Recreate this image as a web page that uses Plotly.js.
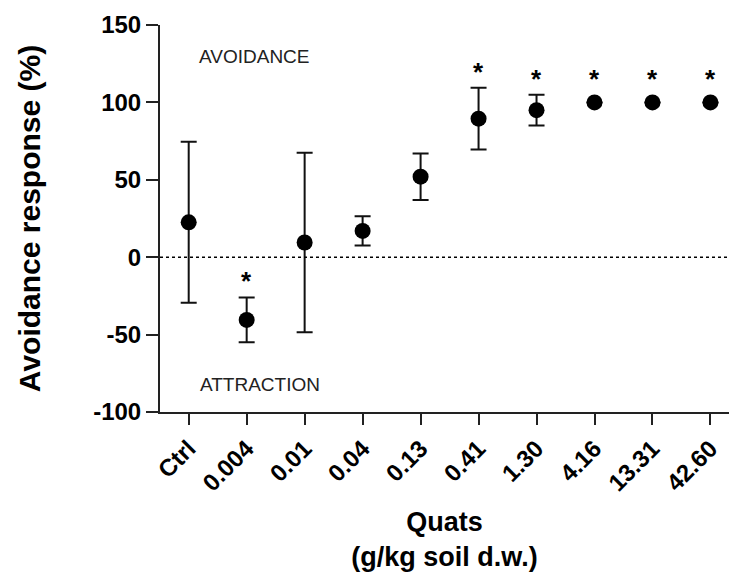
<!DOCTYPE html>
<html>
<head>
<meta charset="utf-8">
<script src="https://cdn.plot.ly/plotly-3.0.1.min.js"></script>
<style>html,body{margin:0;padding:0;background:#fff;}</style>
</head>
<body>
<div id="chart" style="width:729px;height:576px;"></div>
<script>
// Data
const categories = ["Ctrl", "0.004", "0.01", "0.04", "0.13", "0.41", "1.30", "4.16", "13.31", "42.60"];
const meanResponse = [22.5, -40.5, 9.5, 17, 52, 89.5, 95, 100, 100, 100];
const errorSize = [52, 14.5, 58, 9.5, 15, 20, 10, 0, 0, 0];
const significant = [false, true, false, false, false, true, true, true, true, true];
const yTicks = [-100, -50, 0, 50, 100, 150];

const FONT = "Liberation Sans, Arial, sans-serif";

const trace = {
  type: "scatter",
  mode: "markers",
  x: categories,
  y: meanResponse,
  marker: {color: "#000", size: 16, symbol: "circle"},
  error_y: {type: "data", array: errorSize, visible: true, color: "#111", thickness: 2, width: 8},
  hoverinfo: "x+y"
};

const annotations = [];
categories.forEach((c, i) => {
  if (!significant[i]) return;
  const top = meanResponse[i] + errorSize[i];
  annotations.push({
    x: i, y: top, xref: "x", yref: "y",
    text: "*", showarrow: false,
    font: {family: FONT, size: 26, color: "#000", weight: "bold"},
    yanchor: "bottom",
    yshift: errorSize[i] > 0 ? -1 : 6
  });
});
annotations.push({
  x: 0.065, y: 129.5, xref: "paper", yref: "y", xanchor: "left", yanchor: "middle",
  text: "AVOIDANCE", showarrow: false,
  font: {family: FONT, size: 19, color: "#222"}
});
annotations.push({
  x: 0.067, y: -82, xref: "paper", yref: "y", xanchor: "left", yanchor: "middle",
  text: "ATTRACTION", showarrow: false,
  font: {family: FONT, size: 19, color: "#222"}
});

const layout = {
  width: 729, height: 576,
  margin: {l: 160, r: 0, t: 25, b: 164},
  paper_bgcolor: "#fff", plot_bgcolor: "#fff",
  showlegend: false,
  font: {family: FONT, color: "#000"},
  xaxis: {
    type: "category",
    range: [-0.495, 9.32],
    showgrid: false, zeroline: false,
    showline: true, linecolor: "#222", linewidth: 2,
    ticks: "outside", ticklen: 11, tickwidth: 2, tickcolor: "#222",
    tickangle: -45,
    tickfont: {family: FONT, size: 24, color: "#000", weight: "bold"},
    title: {text: "Quats<br>(g/kg soil d.w.)", font: {family: FONT, size: 27, color: "#000", weight: "bold"}, standoff: 17}
  },
  yaxis: {
    range: [-100, 150],
    tickvals: yTicks,
    ticktext: yTicks.map(String),
    showgrid: false, zeroline: false,
    showline: true, linecolor: "#222", linewidth: 2,
    ticks: "outside", ticklen: 12, tickwidth: 2, tickcolor: "#222",
    tickfont: {family: FONT, size: 24, color: "#000", weight: "bold"},
    title: {text: "Avoidance response (%)", font: {family: FONT, size: 30, color: "#000", weight: "bold"}, standoff: 44}
  },
  shapes: [{
    type: "line", xref: "paper", yref: "y", x0: 0, x1: 1, y0: 0, y1: 0,
    line: {color: "#000", width: 1.5, dash: "dot"}
  }],
  annotations: annotations
};

Plotly.newPlot("chart", [trace], layout, {displayModeBar: false, staticPlot: true});
</script>
</body>
</html>
